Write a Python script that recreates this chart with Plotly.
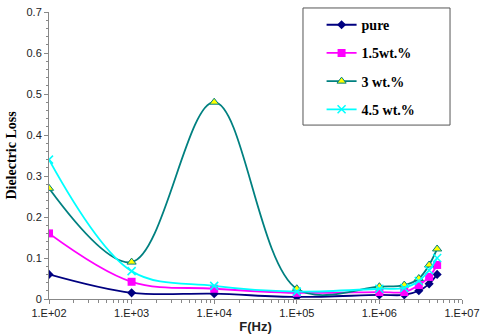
import plotly.graph_objects as go

freq = [1e2, 1e3, 1e4, 1e5, 1e6, 2e6, 3e6, 4e6, 5e6]
pure = [0.060, 0.015, 0.013, 0.005, 0.010, 0.010, 0.020, 0.037, 0.060]
wt15 = [0.160, 0.042, 0.025, 0.015, 0.017, 0.017, 0.034, 0.054, 0.083]
wt3 = [0.270, 0.090, 0.480, 0.025, 0.030, 0.034, 0.050, 0.083, 0.122]
wt45 = [0.340, 0.068, 0.032, 0.018, 0.025, 0.027, 0.044, 0.070, 0.100]

x_ticks = [1e2, 1e3, 1e4, 1e5, 1e6, 1e7]
x_labels = ["1.E+02", "1.E+03", "1.E+04", "1.E+05", "1.E+06", "1.E+07"]
y_ticks = [0, 0.1, 0.2, 0.3, 0.4, 0.5, 0.6, 0.7]
y_labels = ["0", "0.1", "0.2", "0.3", "0.4", "0.5", "0.6", "0.7"]

series = [
    ("pure", pure, "#000080", dict(symbol="diamond", size=7, color="#000080")),
    ("1.5wt.%", wt15, "#FF00FF", dict(symbol="square", size=8, color="#FF00FF")),
    ("3 wt.%", wt3, "#008080", dict(symbol="triangle-up", size=8, color="#FFFF00",
                                    line=dict(color="#008080", width=1))),
    ("4.5 wt.%", wt45, "#00FFFF", dict(symbol="x-thin-open", size=8, color="#00FFFF",
                                       line=dict(color="#00FFFF", width=1.5))),
]

fig = go.Figure()
for i, (name, vals, color, marker) in enumerate(series):
    fig.add_trace(go.Scatter(
        x=freq, y=vals, name=name, legendgroup=str(i),
        mode="lines+markers",
        line=dict(color=color, width=1.8, shape="spline", smoothing=1),
        marker=marker,
    ))

minor_x = [m * 10 ** e for e in range(2, 7) for m in range(2, 10)]
minor_y = [round(v * 0.02, 2) for v in range(36) if v % 5]

fig.update_layout(
    width=480, height=336,
    margin=dict(l=49, r=18, t=12, b=37, autoexpand=False),
    paper_bgcolor="white", plot_bgcolor="white",
    font=dict(family="Liberation Sans, Arial", size=11, color="#222"),
    showlegend=True,
    legend=dict(
        x=0.66, y=1.01, xanchor="left", yanchor="top",
        bgcolor="rgba(0,0,0,0)", borderwidth=0,
        traceorder="grouped", tracegroupgap=7,
        font=dict(family="Liberation Serif, Times New Roman", size=14, color="black", weight="bold"),
        itemwidth=30,
    ),
    xaxis=dict(
        type="log", range=[2, 7], automargin=False,
        tickmode="array", tickvals=x_ticks, ticktext=x_labels,
        showgrid=False, zeroline=False,
        showline=True, linecolor="#888", linewidth=1,
        ticks="outside", ticklen=4, tickcolor="#888",
        minor=dict(tickmode="array", tickvals=minor_x, ticks="outside", ticklen=3, tickcolor="#888"),
        title=dict(text="<b>F(Hz)</b>", font=dict(family="Liberation Sans, Arial", size=13, color="#222"), standoff=3),
    ),
    yaxis=dict(
        range=[0, 0.7], automargin=False,
        tickmode="array", tickvals=y_ticks, ticktext=y_labels,
        showgrid=False, zeroline=False,
        showline=True, linecolor="#888", linewidth=1,
        ticks="outside", ticklen=4, tickcolor="#888",
        minor=dict(tickmode="array", tickvals=minor_y, ticks="outside", ticklen=2, tickcolor="#888"),
        title=dict(text="<b>Dielectric Loss</b>", font=dict(family="Liberation Serif, Times New Roman", size=14, color="black"), standoff=6),
    ),
    shapes=[dict(type="rect", xref="paper", yref="paper",
                 x0=0.615, x1=0.971, y0=0.606, y1=1.014,
                 line=dict(color="#555", width=1), fillcolor="rgba(0,0,0,0)")],
)

fig.write_html("out.html", config={"displayModeBar": False},
               post_script="document.body.style.margin='0';")
